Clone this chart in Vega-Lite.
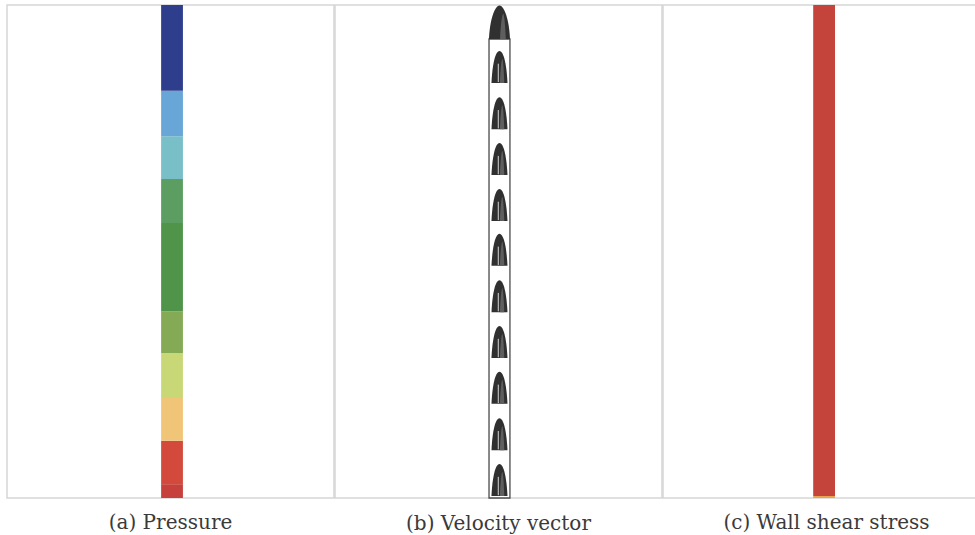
{
  "$schema": "https://vega.github.io/schema/vega-lite/v6.json",
  "background": "white",
  "padding": {"left": 6, "top": 4, "right": 0, "bottom": 0},
  "spacing": -2.5,
  "config": {
    "view": {"stroke": "#d6d6d6", "strokeWidth": 1.5},
    "title": {
      "orient": "bottom",
      "anchor": "middle",
      "font": "DejaVu Serif",
      "fontSize": 20,
      "fontWeight": "normal",
      "color": "#3a3a3a",
      "offset": 15,
      "baseline": "top"
    }
  },
  "datasets": {
    "pressure": [
      {"level": 1, "lo": 0, "hi": 2.8},
      {"level": 2, "lo": 2.8, "hi": 11.6},
      {"level": 3, "lo": 11.6, "hi": 20.3},
      {"level": 4, "lo": 20.3, "hi": 29.4},
      {"level": 5, "lo": 29.4, "hi": 37.9},
      {"level": 6, "lo": 37.9, "hi": 55.8},
      {"level": 7, "lo": 55.8, "hi": 64.7},
      {"level": 8, "lo": 64.7, "hi": 73.4},
      {"level": 9, "lo": 73.4, "hi": 82.6},
      {"level": 10, "lo": 82.6, "hi": 100}
    ],
    "vessel": [{"z0": 0, "z1": 93.1}],
    "profiles": [
      {"z": 84.2}, {"z": 74.8}, {"z": 65.5}, {"z": 56.2}, {"z": 47.1},
      {"z": 37.7}, {"z": 28.4}, {"z": 19.1}, {"z": 9.7}, {"z": 0.4}
    ],
    "outlet": [{"z": 93.1}],
    "wss": [{"z0": 0.4, "z1": 100}],
    "wssEdge": [{"z0": 0, "z1": 0.4}]
  },
  "hconcat": [
    {
      "width": 327,
      "height": 493,
      "title": {"text": "(a) Pressure"},
      "data": {"name": "pressure"},
      "mark": {"type": "rect"},
      "encoding": {
        "x": {"datum": -1, "type": "quantitative", "scale": {"domain": [-15.14, 14.86], "nice": false}, "axis": null},
        "x2": {"datum": 1},
        "y": {"field": "lo", "type": "quantitative", "scale": {"domain": [0, 100], "nice": false}, "axis": null},
        "y2": {"field": "hi"},
        "color": {
          "field": "level",
          "type": "ordinal",
          "scale": {
            "range": ["#c6403c", "#d34a3d", "#f1c578", "#c9d877", "#84aa56", "#4f9449", "#5c9e62", "#79bfc8", "#68a6d8", "#2e3e8c"]
          },
          "legend": null
        }
      }
    },
    {
      "width": 327,
      "height": 493,
      "title": {"text": "(b) Velocity vector"},
      "layer": [
        {
          "data": {"name": "vessel"},
          "mark": {"type": "rect", "fill": "white", "stroke": "#4a4a4a", "strokeWidth": 1.3},
          "encoding": {
            "x": {"datum": -0.96, "type": "quantitative", "scale": {"domain": [-15.09, 14.91], "nice": false}, "axis": null},
            "x2": {"datum": 0.96},
            "y": {"field": "z0", "type": "quantitative", "scale": {"domain": [0, 100], "nice": false}, "axis": null},
            "y2": {"field": "z1"}
          }
        },
        {
          "data": {"name": "profiles"},
          "mark": {
            "type": "point",
            "filled": true,
            "fill": "#303030",
            "opacity": 1,
            "strokeWidth": 0,
            "size": 256,
            "shape": "M -1 0 C -0.9 -2.2 -0.55 -4 0 -4 C 0.55 -4 0.9 -2.2 1 0 Z"
          },
          "encoding": {
            "x": {"datum": 0, "type": "quantitative"},
            "y": {"field": "z", "type": "quantitative"}
          }
        },
        {
          "data": {"name": "profiles"},
          "mark": {
            "type": "point",
            "filled": true,
            "fill": "#5e5e5e",
            "opacity": 1,
            "strokeWidth": 0,
            "size": 256,
            "shape": "M 0.05 0 C 0.1 -1.5 0.25 -3 0.35 -3 C 0.45 -3 0.55 -1.5 0.6 0 Z"
          },
          "encoding": {
            "x": {"datum": 0, "type": "quantitative"},
            "y": {"field": "z", "type": "quantitative"}
          }
        },
        {
          "data": {"name": "profiles"},
          "mark": {
            "type": "point",
            "filled": false,
            "stroke": "#e8e8e8",
            "opacity": 1,
            "strokeWidth": 0.9,
            "size": 256,
            "shape": "M -0.15 -0.1 L -0.15 -2.4"
          },
          "encoding": {
            "x": {"datum": 0, "type": "quantitative"},
            "y": {"field": "z", "type": "quantitative"}
          }
        },
        {
          "data": {"name": "outlet"},
          "mark": {
            "type": "point",
            "filled": true,
            "fill": "#303030",
            "opacity": 1,
            "strokeWidth": 0,
            "size": 441,
            "shape": "M -1 0 C -0.95 -1.6 -0.5 -3.2 0 -3.2 C 0.5 -3.2 0.95 -1.6 1 0 Z"
          },
          "encoding": {
            "x": {"datum": 0, "type": "quantitative"},
            "y": {"field": "z", "type": "quantitative"}
          }
        },
        {
          "data": {"name": "outlet"},
          "mark": {
            "type": "point",
            "filled": true,
            "fill": "#5e5e5e",
            "opacity": 1,
            "strokeWidth": 0,
            "size": 441,
            "shape": "M 0.05 0 C 0.1 -1.2 0.25 -2.4 0.35 -2.4 C 0.45 -2.4 0.55 -1.2 0.6 0 Z"
          },
          "encoding": {
            "x": {"datum": 0, "type": "quantitative"},
            "y": {"field": "z", "type": "quantitative"}
          }
        }
      ]
    },
    {
      "width": 315,
      "height": 493,
      "title": {"text": "(c) Wall shear stress", "dx": 6},
      "layer": [
        {
          "data": {"name": "wss"},
          "mark": {"type": "rect", "fill": "#c4443c"},
          "encoding": {
            "x": {"datum": -1, "type": "quantitative", "scale": {"domain": [-14.78, 14.12], "nice": false}, "axis": null},
            "x2": {"datum": 1},
            "y": {"field": "z0", "type": "quantitative", "scale": {"domain": [0, 100], "nice": false}, "axis": null},
            "y2": {"field": "z1"}
          }
        },
        {
          "data": {"name": "wssEdge"},
          "mark": {"type": "rect", "fill": "#e8a24c"},
          "encoding": {
            "x": {"datum": -1, "type": "quantitative"},
            "x2": {"datum": 1},
            "y": {"field": "z0", "type": "quantitative"},
            "y2": {"field": "z1"}
          }
        }
      ]
    }
  ]
}
